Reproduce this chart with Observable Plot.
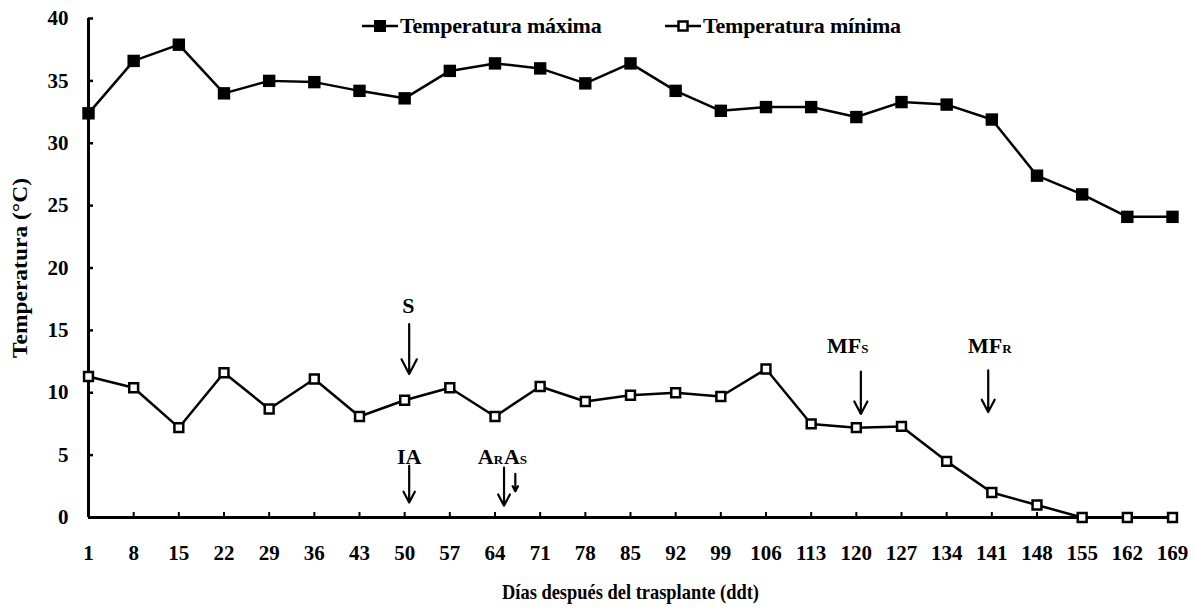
<!DOCTYPE html>
<html>
<head>
<meta charset="utf-8">
<script src="https://cdn.jsdelivr.net/npm/d3@7"></script>
<script src="https://cdn.jsdelivr.net/npm/@observablehq/plot@0.6"></script>
<style>
  html, body { margin: 0; padding: 0; background: #fff; }
  #wrap { position: relative; width: 1196px; height: 609px; font-family: "Liberation Serif", "DejaVu Serif", serif; font-weight: bold; }
  #wrap svg text { font-family: "Liberation Serif", "DejaVu Serif", serif; }
  .leg { position: absolute; top: 13px; display: flex; align-items: center; font-size: 22px; color: #000; white-space: nowrap; letter-spacing: -0.2px; }
  .leg svg { display: block; margin-right: 2px; }
</style>
</head>
<body>
<div id="wrap"></div>
<script>
const days = [1, 8, 15, 22, 29, 36, 43, 50, 57, 64, 71, 78, 85, 92, 99, 106, 113, 120, 127, 134, 141, 148, 155, 162, 169];
const tmax = [32.4, 36.6, 37.9, 34.0, 35.0, 34.9, 34.2, 33.6, 35.8, 36.4, 36.0, 34.8, 36.4, 34.2, 32.6, 32.9, 32.9, 32.1, 33.3, 33.1, 31.9, 27.4, 25.9, 24.1, 24.1];
const tmin = [11.3, 10.4, 7.2, 11.6, 8.7, 11.1, 8.1, 9.4, 10.4, 8.1, 10.5, 9.3, 9.8, 10.0, 9.7, 11.9, 7.5, 7.2, 7.3, 4.5, 2.0, 1.0, 0, 0, 0];
const yTicks = [0, 5, 10, 15, 20, 25, 30, 35, 40];
const seriesNames = ["Temperatura máxima", "Temperatura mínima"];
const xTitle = "Días después del trasplante (ddt)";
const yTitle = "Temperatura (°C)";

// phenological stage annotations (x in category-index units)
const arrowX  = [7.1, 7.1, 9.2, 9.45, 17.1, 19.92];
const arrowY1 = [15.5, 4.15, 4.0, 3.5, 11.7, 11.8];
const arrowY2 = [11.5, 1.2, 0.95, 2.1, 8.3, 8.45];
// plain labels (centred)
const plainText = ["S", "IA"];
const plainX    = [7.08, 7.1];
const plainY    = [16.4, 4.25];
// labels with small-capital subscripts (joined at x)
const subMain = ["A", "A", "MF", "MF"];
const subText = ["R", "S", "S", "R"];
const subX    = [8.97, 9.55, 17.11, 20.23];
const subY    = [4.25, 4.25, 13.2, 13.2];

const idx = d3.range(days.length);
const maxData = idx.map(i => ({i, v: tmax[i]}));
const minData = idx.map(i => ({i, v: tmin[i]}));
const arrows = arrowX.map((x, k) => ({x, y1: arrowY1[k], y2: arrowY2[k]}));
const plain = plainText.map((t, k) => ({t, x: plainX[k], y: plainY[k]}));
const subs = subMain.map((t, k) => ({t, s: subText[k], x: subX[k], y: subY[k]}));

const font = "Liberation Serif, DejaVu Serif, serif";

const chart = Plot.plot({
  width: 1196,
  height: 609,
  marginLeft: 88,
  marginRight: 24,
  marginTop: 18,
  marginBottom: 92,
  style: {fontFamily: font, fontWeight: "bold", background: "#fff", color: "#000"},
  x: {domain: [0, days.length - 1], axis: null},
  y: {domain: [0, 40], axis: null},
  marks: [
    Plot.axisY({ticks: yTicks, tickSize: 0, tickPadding: 20, label: null, fontSize: 21, fontWeight: "bold", fontFamily: font}),
    Plot.axisY({ticks: yTicks, tickSize: -5, tickFormat: () => "", label: null, strokeWidth: 2.5}),
    Plot.axisX({ticks: idx, tickSize: 0, tickPadding: 28, tickFormat: i => days[i], label: null, fontSize: 21, fontWeight: "bold", fontFamily: font}),
    Plot.axisX({ticks: idx, tickSize: -5, tickFormat: () => "", label: null, strokeWidth: 2}),
    Plot.ruleX([0], {strokeWidth: 3}),
    Plot.ruleY([0], {strokeWidth: 3}),
    Plot.line(maxData, {x: "i", y: "v", stroke: "#000", strokeWidth: 2.5}),
    Plot.dot(maxData, {x: "i", y: "v", symbol: "square", r: 7, fill: "#000", stroke: "none"}),
    Plot.line(minData, {x: "i", y: "v", stroke: "#000", strokeWidth: 2.5}),
    Plot.dot(minData, {x: "i", y: "v", symbol: "square", r: 5, fill: "#fff", stroke: "#000", strokeWidth: 2.5}),
    Plot.arrow(arrows, {x: "x", y1: "y1", y2: "y2", stroke: "#000", strokeWidth: 2.2, headLength: 16, headAngle: 55}),
    Plot.text(plain, {x: "x", y: "y", text: "t", textAnchor: "middle", lineAnchor: "bottom", fontSize: 22, fontWeight: "bold", fontFamily: font}),
    Plot.text(subs, {x: "x", y: "y", text: "t", textAnchor: "end", lineAnchor: "bottom", fontSize: 22, fontWeight: "bold", fontFamily: font}),
    Plot.text(subs, {x: "x", y: "y", text: "s", textAnchor: "start", lineAnchor: "bottom", fontSize: 13, fontWeight: "bold", fontFamily: font}),
    Plot.text([yTitle], {frameAnchor: "left", dx: -68, rotate: -90, fontSize: 21, fontWeight: "bold", fontFamily: font, textAnchor: "middle", lineAnchor: "middle", className: "ytitle"}),
    Plot.text([xTitle], {frameAnchor: "bottom", dy: 75, fontSize: 21, fontWeight: "bold", fontFamily: font, textAnchor: "middle", lineAnchor: "middle", className: "xtitle"})
  ]
});

// match the reference's stretched title lengths
chart.querySelectorAll("text").forEach(t => {
  if (t.textContent === yTitle) { t.setAttribute("textLength", 180); t.setAttribute("lengthAdjust", "spacingAndGlyphs"); }
  if (t.textContent === xTitle) { t.setAttribute("textLength", 257); t.setAttribute("lengthAdjust", "spacingAndGlyphs"); }
});

const wrap = document.getElementById("wrap");
wrap.appendChild(chart);

function legendItem(name, filled, left) {
  const div = document.createElement("div");
  div.className = "leg";
  div.style.left = left + "px";
  const fill = filled ? "#000" : "#fff";
  const side = filled ? 12 : 9;
  div.innerHTML = `<svg width="36" height="24" viewBox="0 0 36 24">
    <line x1="0" y1="12" x2="36" y2="12" stroke="#000" stroke-width="2.5"/>
    <rect x="${18 - side / 2}" y="${12 - side / 2}" width="${side}" height="${side}" fill="${fill}" stroke="${filled ? "none" : "#000"}" stroke-width="2.5"/>
  </svg><span>${name}</span>`;
  wrap.appendChild(div);
}
legendItem(seriesNames[0], true, 362);
legendItem(seriesNames[1], false, 665);
</script>
</body>
</html>
